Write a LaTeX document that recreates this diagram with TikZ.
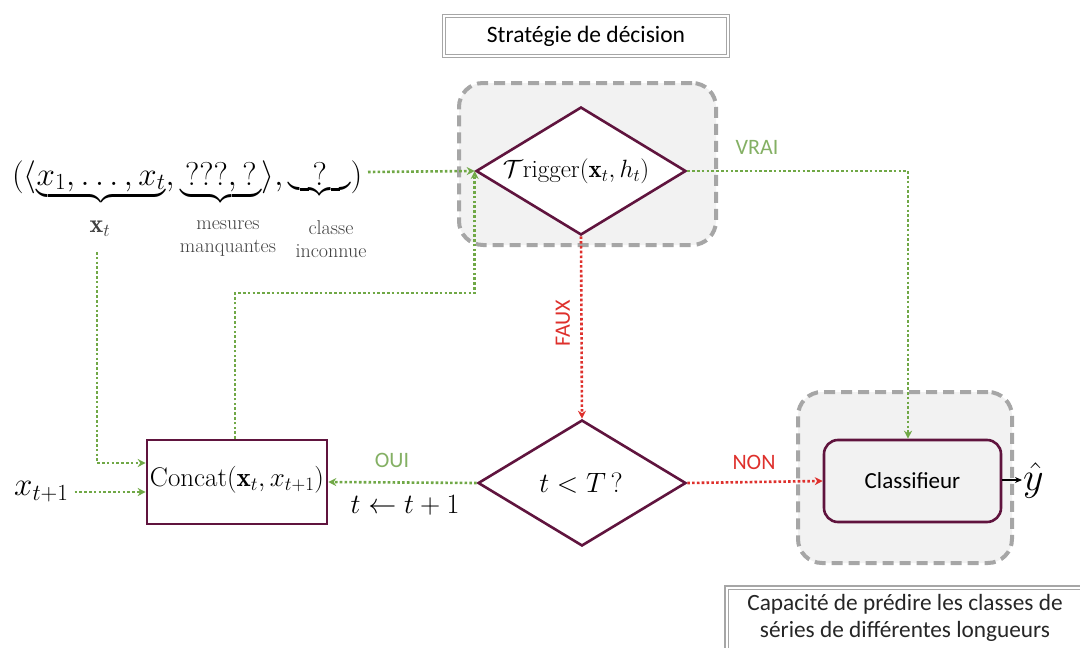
\RequirePackage{fix-cm}
\documentclass[tikz,border=0pt]{standalone}
\usepackage{amsmath}
\usepackage{fontspec}
\newfontfamily\calib{Carlito}
\usetikzlibrary{shapes.geometric,arrows.meta}
\definecolor{dgreen}{RGB}{112,168,70}
\definecolor{lgreen}{RGB}{132,176,100}
\definecolor{dred}{RGB}{222,48,44}
\definecolor{plum}{RGB}{96,20,62}
\definecolor{gbox}{RGB}{166,166,166}
\definecolor{gfill}{RGB}{242,242,242}
\tikzset{
  greenflow/.style={draw=dgreen, line width=2.6pt, dash pattern=on 2.6pt off 2.2pt, -{Stealth[length=8pt,width=8pt]}},
  redflow/.style={draw=dred, line width=2.6pt, dash pattern=on 2.6pt off 2.2pt, -{Stealth[length=8pt,width=8pt]}},
  group/.style={draw=gbox, fill=gfill, line width=4pt, dash pattern=on 11pt off 6pt, rounded corners=24pt},
  decision/.style={diamond, draw=plum, fill=white, line width=2.6pt, aspect=1.63, inner sep=0pt, minimum width=210pt, minimum height=128pt},
  procbox/.style={draw=plum, line width=2.6pt, inner sep=0pt},
  titlebox/.style={draw=gbox, double=white, double distance=2pt, line width=1.2pt, fill=white},
  lbl/.style={font=\calib\fontsize{22}{26}\selectfont},
  mathtxt/.style={font=\fontsize{28}{32}\selectfont, inner sep=0pt},
  bracelbl/.style={font=\fontsize{20}{22}\selectfont, text=black!75, align=center, inner sep=0pt}
}
\begin{document}
\begin{tikzpicture}[x=1pt,y=-1pt]
\useasboundingbox (0,0) rectangle (1080,648);
% groups
\node[group, minimum width=257pt, minimum height=162pt] (grp1) at (587.5,164) {};
\node[group, minimum width=214pt, minimum height=171pt] (grp2) at (905,477.5) {};
% title boxes
\node[titlebox, minimum width=284pt, minimum height=40pt, font=\calib\fontsize{23.5}{28}\selectfont] (strat) at (586,36) {Stratégie de décision};
\node[titlebox, minimum width=356pt, minimum height=80pt, anchor=north west] (capa) at (726,587) {};
\node[font=\calib\fontsize{23.3}{27}\selectfont, align=center, text=black!85] (capatxt) at (905,618) {Capacité de prédire les classes de\\séries de différentes longueurs};
% decisions
\node[decision] (trig) at (581,171) {};
\node[font=\fontsize{25}{29}\selectfont, inner sep=0pt] (trigtxt) at (576,171) {$\mathcal{T}\mathrm{rigger}(\mathbf{x}_t, h_t)$};
\node[decision, minimum width=208pt, minimum height=126pt] (test) at (582,483) {};
\node[mathtxt] (testtxt) at (581,483) {$t < T\,?$};
% boxes
\node[procbox, minimum width=180pt, minimum height=84pt] (concat) at (237,482) {};
\node[font=\fontsize{27}{31}\selectfont, inner sep=0pt] (concattxt) at (237,480) {$\mathrm{Concat}(\mathbf{x}_t, x_{t+1})$};
\node[procbox, fill=gfill, rounded corners=14pt, minimum width=177pt, minimum height=82pt, font=\calib\fontsize{23}{27}\selectfont] (classif) at (912.5,481) {Classifieur};
\node[font=\fontsize{40}{44}\selectfont, inner sep=1pt, anchor=west] (yhat) at (1022,480) {$\hat{y}$};
\node[font=\fontsize{33}{37}\selectfont, inner sep=0pt, anchor=west] (xnext) at (14,492) {$x_{t+1}$};
% tuple
\node[font=\fontsize{33}{38}\selectfont, inner sep=0pt, anchor=base west] (tuple) at (12,185) {$(\langle\underbrace{x_1,\ldots,x_t},\underbrace{\hspace{5pt}???,?\hspace{5pt}}\rangle,\underbrace{\hspace{0.72em}?\hspace{0.72em}})$};
\node[bracelbl, font=\fontsize{26}{28}\selectfont] (xtlbl) at (100,229) {$\mathbf{x}_t$};
\node[bracelbl] (mes) at (228,239) {mesures\\[1pt]manquantes};
\node[bracelbl] (cls) at (331,239) {classe\\[1pt]inconnue};
\coordinate (tupleout) at (368,172);
\coordinate (xtl) at (97,252);
% connectors
\draw[greenflow] (tupleout) -- (trig.west);
\draw[greenflow] (xtl) |- ([yshift=19pt]concat.west);
\draw[greenflow] (xnext.east) ++(6pt,0) coordinate (xn) (xn) -- (xn -| concat.west);
\coordinate (up1) at (235,293);
\draw[greenflow] (concat.north -| up1) |- (up1 -| trig.west) -- (trig.west);
\draw[greenflow] (trig.east) -| (classif.north -| 908,0);
\draw[redflow] (trig.south) -- (test.north);
\draw[redflow] (test.east) -- (classif.west);
\draw[greenflow] (test.west) -- (concat.east);
\draw[-{Stealth[length=7pt,width=6pt]}, line width=1.2pt] (classif.east |- yhat.west) -- (yhat.west);
% labels
\node[lbl, text=lgreen] (vrai) at (757,147) {VRAI};
\node[lbl, text=dred, rotate=90] (faux) at (563,323) {FAUX};
\node[lbl, text=lgreen] (oui) at (392,460) {OUI};
\node[lbl, text=dred] (non) at (754,462) {NON};
\node[mathtxt] (incr) at (405,505) {$t \leftarrow t+1$};
\end{tikzpicture}
\end{document}
